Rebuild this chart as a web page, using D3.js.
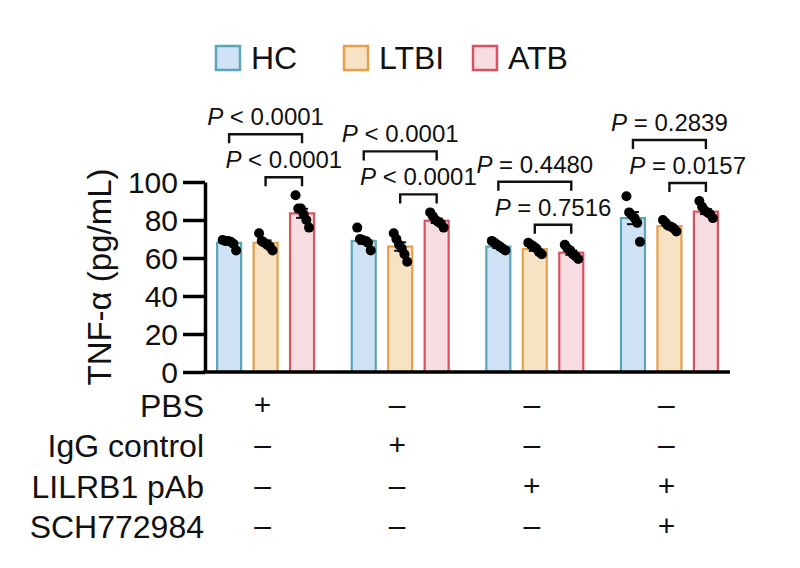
<!DOCTYPE html>
<html>
<head>
<meta charset="utf-8">
<script src="https://cdn.jsdelivr.net/npm/d3@7"></script>
<style>
  body { margin: 0; background: #fff; }
  svg text { font-family: "Liberation Sans", Arial, sans-serif; fill: #111; }
</style>
</head>
<body>
<div id="chart"></div>
<script>
// groups along the x axis
var conditions = ["PBS", "IgG", "LILRB1", "LILRB1+SCH"];
var series = ["HC", "LTBI", "ATB"];

// bar heights (means)
var hcMeans   = [68, 69, 66, 81];
var ltbiMeans = [68, 66, 64.7, 76.8];
var atbMeans  = [83.5, 79.6, 62.8, 84.4];

// individual donors per bar
var hcPoints = [
  [69.5, 69, 69, 68.5, 67.5, 64],
  [76, 70, 69.5, 69, 68, 64],
  [69, 68, 67, 66, 65, 64],
  [92.5, 84, 82.5, 81, 78.5, 68.5]
];
var ltbiPoints = [
  [73, 69, 68, 67, 66, 64],
  [73, 70, 67, 65, 62, 58],
  [68, 67, 66, 65, 63, 62],
  [80, 78.5, 77, 76.5, 75.5, 74]
];
var atbPoints = [
  [93, 86, 86, 83, 80, 76],
  [84, 82, 80, 79, 78, 76],
  [67, 65, 64, 62, 61, 59.5],
  [90, 87, 85, 84, 83, 81]
];

// comparisons: [lower LTBI vs ATB, upper HC vs ATB]
var pLower = ["< 0.0001", "< 0.0001", "= 0.7516", "= 0.0157"];
var pUpper = ["< 0.0001", "< 0.0001", "= 0.4480", "= 0.2839"];

// treatment table under the axis
var rowLabels = ["PBS", "IgG control", "LILRB1 pAb", "SCH772984"];
var pbsRow   = ["+", "\u2013", "\u2013", "\u2013"];
var iggRow   = ["\u2013", "+", "\u2013", "\u2013"];
var pabRow   = ["\u2013", "\u2013", "+", "+"];
var schRow   = ["\u2013", "\u2013", "\u2013", "+"];

var yTicks = [0, 20, 40, 60, 80, 100];

var fills   = {HC: "#cfe2f5", LTBI: "#f7e2c4", ATB: "#f7dce1"};
var strokes = {HC: "#5aa6b6", LTBI: "#e6a04c", ATB: "#d9525f"};

var means  = {HC: hcMeans, LTBI: ltbiMeans, ATB: atbMeans};
var points = {HC: hcPoints, LTBI: ltbiPoints, ATB: atbPoints};

var W = 800, H = 568;
var plotL = 205, plotR = 730, plotT = 182, plotB = 372;

var svg = d3.select("#chart").append("svg")
    .attr("width", W).attr("height", H);

var x0 = d3.scaleBand().domain(conditions).range([plotL, plotR])
    .paddingInner(0.28).paddingOuter(0.09);
var x1 = d3.scaleBand().domain(series).range([0, x0.bandwidth()])
    .paddingInner(0.342).paddingOuter(0);
var y = d3.scaleLinear().domain([0, 100]).range([plotB, plotT]);
var jitter = d3.scalePoint().domain(d3.range(6)).range([-6.5, 7]);

function barCenter(c, s) { return x0(c) + x1(s) + x1.bandwidth() / 2; }

// bars
var bars = [];
conditions.forEach(function(c, i) {
    series.forEach(function(s) {
        bars.push({c: c, s: s, mean: means[s][i], pts: points[s][i]});
    });
});

svg.append("g").selectAll("rect").data(bars).enter().append("rect")
    .attr("x", function(d) { return x0(d.c) + x1(d.s); })
    .attr("y", function(d) { return y(d.mean); })
    .attr("width", x1.bandwidth())
    .attr("height", function(d) { return y(0) - y(d.mean); })
    .style("fill", function(d) { return fills[d.s]; })
    .style("stroke", function(d) { return strokes[d.s]; })
    .style("stroke-width", 2.2);

// SEM error bars
bars.forEach(function(d) {
    var sem = d3.deviation(d.pts) / Math.sqrt(d.pts.length);
    var cx = barCenter(d.c, d.s);
    var g = svg.append("g").style("stroke", "#111").style("stroke-width", 2);
    g.append("line").attr("x1", cx).attr("x2", cx)
        .attr("y1", y(d.mean - sem)).attr("y2", y(d.mean + sem));
    [d.mean - sem, d.mean + sem].forEach(function(v) {
        g.append("line").attr("x1", cx - 6).attr("x2", cx + 6)
            .attr("y1", y(v)).attr("y2", y(v));
    });
});

// dots
bars.forEach(function(d) {
    var cx = barCenter(d.c, d.s);
    svg.append("g").selectAll("circle").data(d.pts).enter().append("circle")
        .attr("cx", function(v, j) { return cx + jitter(j); })
        .attr("cy", function(v) { return y(v); })
        .attr("r", 5)
        .style("fill", "#000");
});

// axes
var yAxis = svg.append("g")
    .attr("transform", "translate(" + plotL + ",0)")
    .call(d3.axisLeft(y).tickValues(yTicks).tickSize(22).tickSizeOuter(0).tickPadding(5));
yAxis.select(".domain").style("stroke", "#000").style("stroke-width", 3.5);
yAxis.selectAll(".tick line").style("stroke", "#000").style("stroke-width", 3.5);
yAxis.selectAll(".tick text").style("font-size", "30px").style("fill", "#111")
    .style("font-family", "Liberation Sans, Arial, sans-serif")
    .attr("dy", "0.36em");

svg.append("line")
    .attr("x1", plotL - 1.75).attr("x2", plotR)
    .attr("y1", y(0)).attr("y2", y(0))
    .style("stroke", "#000").style("stroke-width", 3.5);

svg.append("text")
    .attr("transform", "translate(111," + ((plotT + plotB) / 2) + ") rotate(-90)")
    .attr("text-anchor", "middle")
    .style("font-size", "33px")
    .text("TNF-\u03b1 (pg/mL)");

// significance brackets
function bracket(c, sA, sB, yPix, label) {
    var xa = barCenter(c, sA), xb = barCenter(c, sB);
    svg.append("path")
        .attr("d", "M" + xa + "," + (yPix + 9) + "V" + yPix + "H" + xb + "V" + (yPix + 9))
        .style("fill", "none").style("stroke", "#111").style("stroke-width", 2.4);
    var t = svg.append("text")
        .attr("x", (xa + xb) / 2).attr("y", yPix - 9)
        .attr("text-anchor", "middle")
        .style("font-size", "24px");
    t.append("tspan").style("font-style", "italic").text("P");
    t.append("tspan").text(" " + label);
}

conditions.forEach(function(c, i) {
    var top2 = d3.max(ltbiPoints[i].concat(atbPoints[i]));
    var yLow = y(top2) - 18;
    bracket(c, "LTBI", "ATB", yLow, pLower[i]);
    bracket(c, "HC", "ATB", yLow - 43, pUpper[i]);
});

// legend
var legendX = {HC: 215, LTBI: 343, ATB: 472};
var legend = svg.append("g").selectAll("g").data(series).enter().append("g")
    .attr("transform", function(s) { return "translate(" + legendX[s] + ",45)"; });
legend.append("rect")
    .attr("x", 1).attr("y", 1).attr("width", 24).attr("height", 24)
    .style("fill", function(s) { return fills[s]; })
    .style("stroke", function(s) { return strokes[s]; })
    .style("stroke-width", 2.5);
legend.append("text")
    .attr("x", 36).attr("y", 24)
    .style("font-size", "32px")
    .text(function(s) { return s; });

// treatment table
var rows = [pbsRow, iggRow, pabRow, schRow];
var rowBase = [417, 457, 498, 538];
rows.forEach(function(row, r) {
    svg.append("text")
        .attr("x", 204).attr("y", rowBase[r])
        .attr("text-anchor", "end")
        .style("font-size", "32px")
        .text(rowLabels[r]);
    svg.append("g").selectAll("text").data(row).enter().append("text")
        .attr("x", function(d, i) { return x0(conditions[i]) + x0.bandwidth() / 2 - 3; })
        .attr("y", rowBase[r] - 2)
        .attr("text-anchor", "middle")
        .style("font-size", "30px")
        .text(function(d) { return d; });
});
</script>
</body>
</html>
